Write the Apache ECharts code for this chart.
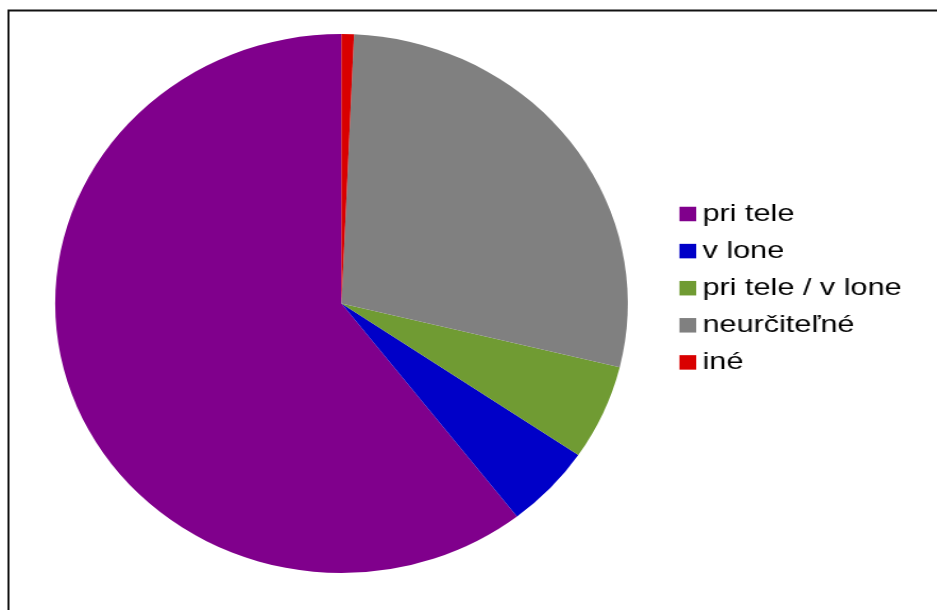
<!DOCTYPE html>
<html>
<head>
<meta charset="utf-8">
<script src="https://cdn.jsdelivr.net/npm/echarts@6/dist/echarts.min.js"></script>
<style>
  html, body { margin: 0; padding: 0; background: #fff; overflow: hidden; }
  #wrap { position: relative; width: 937px; height: 610px; overflow: hidden; background: #fff; }
  #bg { position: absolute; left: 0; top: 0; width: 937px; height: 610px; }
  #pie { position: absolute; left: 0; top: 0; width: 882px; height: 610px; transform: scaleX(1.0625); transform-origin: 0 0; }
  #leg { position: absolute; left: 0; top: 0; width: 735px; height: 610px; transform: scaleX(1.275); transform-origin: 0 0; }
</style>
</head>
<body>
<div id="wrap">
  <div id="bg"></div>
  <div id="pie"></div>
  <div id="leg"></div>
</div>
<script>
const categories = ['pri tele', 'v lone', 'pri tele / v lone', 'neurčiteľné', 'iné'];
const values = [60.5, 5.0, 5.7, 28.1, 0.7];
const colors = ['#80008c', '#0000c8', '#709b33', '#808080', '#d90000'];

const pieData = categories.map((name, i) => ({ name: name, value: values[i], itemStyle: { color: colors[i] } }));

const bg = echarts.init(document.getElementById('bg'));
bg.setOption({
  animation: false,
  backgroundColor: '#ffffff',
  graphic: [{
    type: 'rect',
    shape: { x: 8.5, y: 10.5, width: 1100, height: 800 },
    style: { fill: 'none', stroke: '#111111', lineWidth: 2 },
    silent: true
  }]
});

const pie = echarts.init(document.getElementById('pie'));
pie.setOption({
  animation: false,
  backgroundColor: 'transparent',
  series: [{
    type: 'pie',
    center: [321.4, 303.5],
    radius: 269.5,
    startAngle: 90,
    clockwise: false,
    avoidLabelOverlap: false,
    label: { show: false },
    labelLine: { show: false },
    emphasis: { disabled: true },
    silent: true,
    data: pieData
  }]
});

const leg = echarts.init(document.getElementById('leg'));
leg.setOption({
  animation: false,
  backgroundColor: 'transparent',
  legend: {
    orient: 'vertical',
    left: 532.9,
    top: 202,
    padding: 0,
    itemWidth: 13.1,
    itemHeight: 14.5,
    itemGap: 13.1,
    icon: 'rect',
    selectedMode: false,
    data: categories,
    textStyle: {
      fontFamily: '"Liberation Sans", Arial, sans-serif',
      fontSize: 24,
      lineHeight: 24,
      color: '#000000'
    }
  },
  series: [{
    type: 'pie',
    center: [-2000, -2000],
    radius: 1,
    label: { show: false },
    silent: true,
    data: pieData
  }]
});
</script>
</body>
</html>
